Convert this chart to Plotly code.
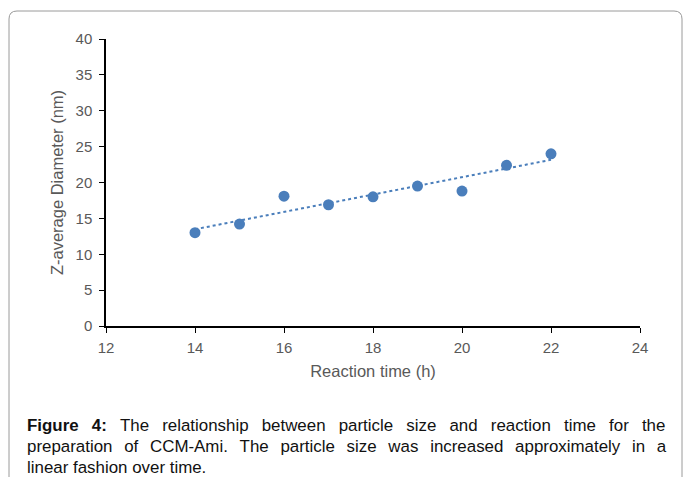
import numpy as np
import plotly.graph_objects as go

# reaction time (h) and Z-average diameter (nm)
reaction_time = [14, 15, 16, 17, 18, 19, 20, 21, 22]
z_average = [13.0, 14.2, 18.1, 16.9, 18.0, 19.5, 18.8, 22.4, 24.0]

x_ticks = [12, 14, 16, 18, 20, 22, 24]
y_ticks = [0, 5, 10, 15, 20, 25, 30, 35, 40]

caption_lines = [
    "<b>Figure 4:</b> The relationship between particle size and reaction time for the",
    "preparation of CCM-Ami. The particle size was increased approximately in a",
    "linear fashion over time.",
]
# extra word spacing per caption line (justified text in the original)
caption_gaps = [" \u2002", " \u2005\u2006", " "]

# linear trendline, like Excel's
slope, intercept = np.polyfit(reaction_time, z_average, 1)
trend_x = [reaction_time[0], reaction_time[-1]]
trend_y = [slope * x + intercept for x in trend_x]

BLUE = "#4a7ebb"
GREY = "#595959"

fig = go.Figure()
fig.add_trace(go.Scatter(
    x=trend_x, y=trend_y, mode="lines",
    line=dict(color=BLUE, width=2, dash="dot"),
    hoverinfo="skip", showlegend=False
))
fig.add_trace(go.Scatter(
    x=reaction_time, y=z_average, mode="markers",
    marker=dict(color=BLUE, size=11),
    showlegend=False
))

# plot area in pixels: x 106..640, y 39..326
W, H = 683, 477
L, R, T, B = 106, 43, 39, 151
pw, ph = W - L - R, H - T - B


def px(x):
    return (x - L) / pw


def py(y):
    return (H - B - y) / ph


# rounded frame round chart and caption (bottom is cut off)
r = 8
frame = (f"M {px(9)},{py(480)} L {px(9)},{py(11 + r)} "
         f"Q {px(9)},{py(11)} {px(9 + r)},{py(11)} "
         f"L {px(682 - r)},{py(11)} Q {px(682)},{py(11)} {px(682)},{py(11 + r)} "
         f"L {px(682)},{py(480)}")
fig.add_shape(type="path", path=frame, xref="paper", yref="paper",
              line=dict(color="#9a9a9a", width=1), layer="below")

cap_y = [425, 446, 467]
for text, gap, yy in zip(caption_lines, caption_gaps, cap_y):
    fig.add_annotation(
        text=text.replace(" ", gap), xref="paper", yref="paper", x=px(25), y=py(yy),
        xanchor="left", yanchor="middle", showarrow=False,
        font=dict(family="Liberation Sans, Arial", size=16.9, color="#111111"),
    )

fig.update_layout(
    width=W, height=H,
    margin=dict(l=L, r=R, t=T, b=B),
    paper_bgcolor="white", plot_bgcolor="white",
    font=dict(family="Liberation Sans, Arial, sans-serif", color=GREY, size=15),
    xaxis=dict(
        range=[12, 24], tickvals=x_ticks, showgrid=False, zeroline=False,
        showline=True, linecolor="black", linewidth=1.5,
        ticks="outside", ticklen=5, tickcolor="black", ticklabelstandoff=2,
        title=dict(text="Reaction time (h)", standoff=11, font=dict(size=16.5, color=GREY)),
    ),
    yaxis=dict(
        range=[0, 40], tickvals=y_ticks, showgrid=False, zeroline=False,
        showline=True, linecolor="black", linewidth=1.5,
        ticks="outside", ticklen=5, tickcolor="black", ticklabelstandoff=4,
        title=dict(text="Z-average Diameter (nm)", standoff=8, font=dict(size=16.5, color=GREY)),
    ),
)

fig.write_html("out.html", config={"displayModeBar": False},
               post_script="document.body.style.margin='0';")
